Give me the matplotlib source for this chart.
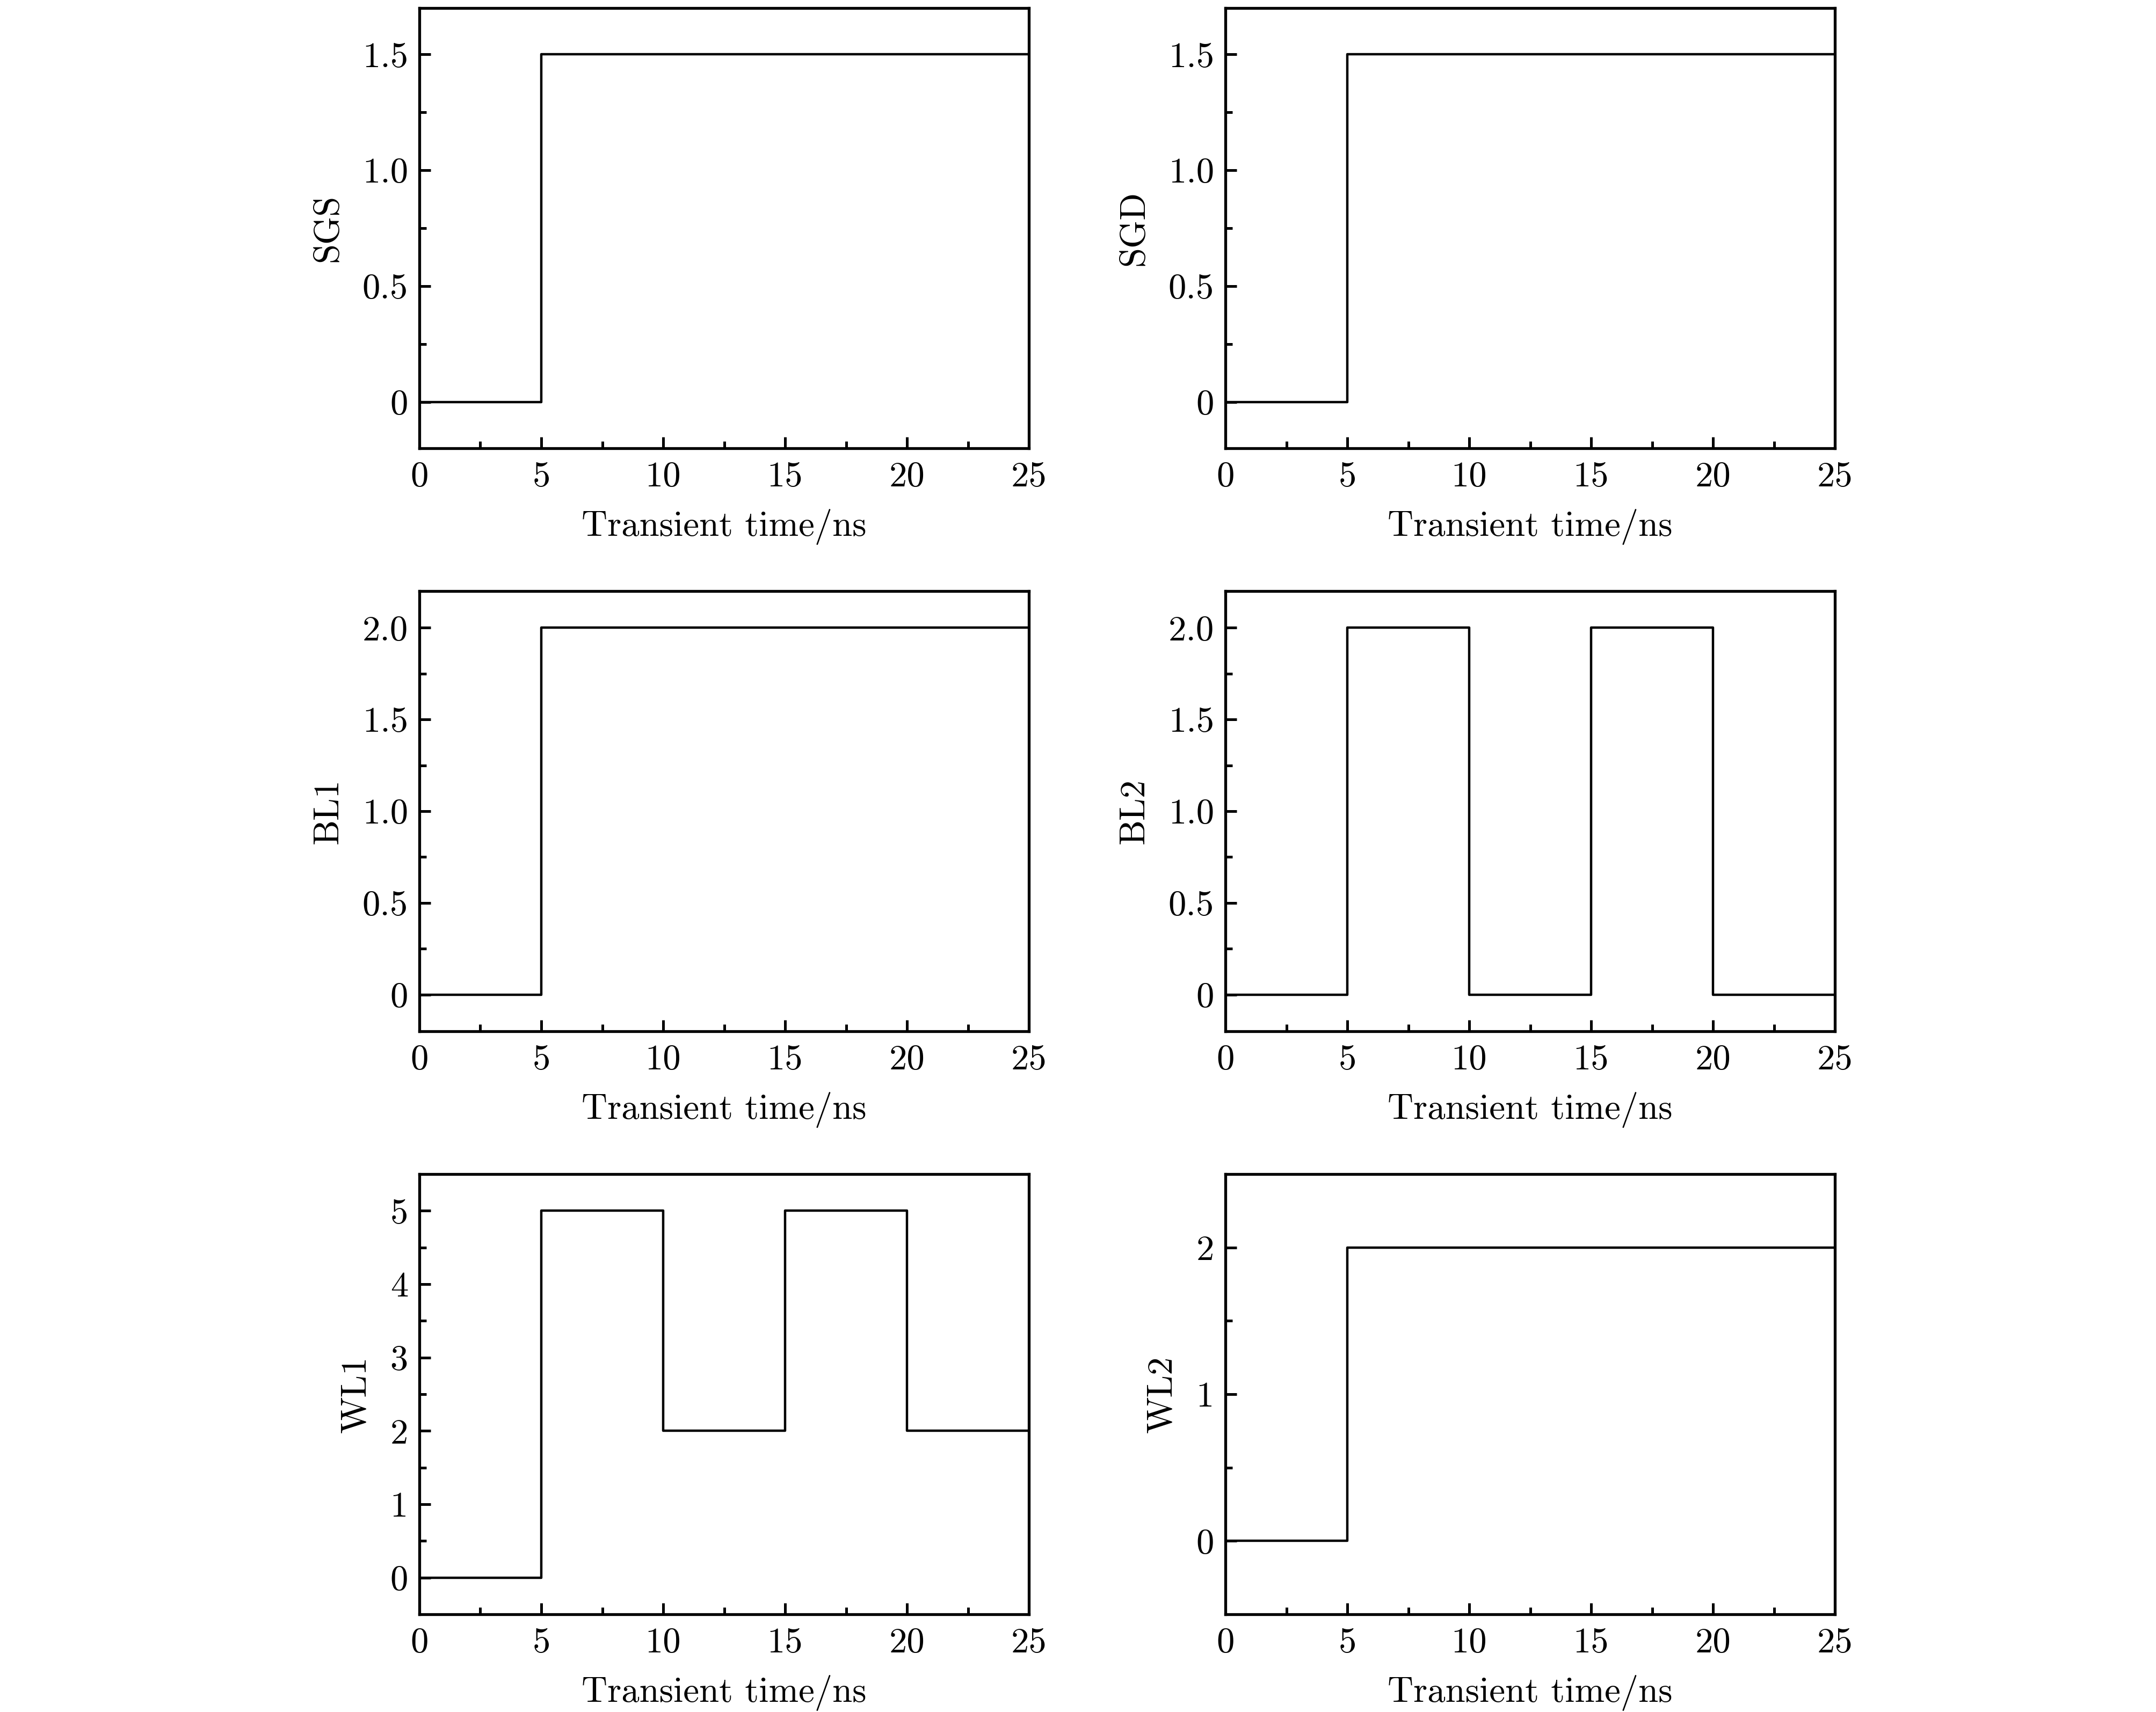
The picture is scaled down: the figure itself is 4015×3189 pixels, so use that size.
import matplotlib
matplotlib.use("Agg")
import matplotlib.pyplot as plt
from matplotlib.ticker import MultipleLocator, FuncFormatter

plt.rcParams['font.family'] = 'serif'
plt.rcParams['font.serif'] = ['cmr10', 'DejaVu Serif']
plt.rcParams['axes.formatter.use_mathtext'] = True

# Data
time_ns = [0, 5, 10, 15, 20, 25]
sgs = [0, 1.5, 1.5, 1.5, 1.5, 1.5]
sgd = [0, 1.5, 1.5, 1.5, 1.5, 1.5]
bl1 = [0, 2.0, 2.0, 2.0, 2.0, 2.0]
bl2 = [0, 2.0, 0, 2.0, 0, 0]
wl1 = [0, 5, 2, 5, 2, 2]
wl2 = [0, 2, 2, 2, 2, 2]

labels = ["SGS", "SGD", "BL1", "BL2", "WL1", "WL2"]
series = [sgs, sgd, bl1, bl2, wl1, wl2]
ylims = [(-0.2, 1.7), (-0.2, 1.7), (-0.2, 2.2), (-0.2, 2.2), (-0.5, 5.5), (-0.5, 2.5)]
ymajor = [0.5, 0.5, 0.5, 0.5, 1, 1]
yminor = [0.25, 0.25, 0.25, 0.25, 0.5, 0.5]
decimals = [1, 1, 1, 1, 0, 0]

W, H = 4016, 3189
fig = plt.figure(figsize=(W / 400, H / 400), dpi=400)

col_left = [781, 2282]
col_right = [1916, 3417]
row_top = [15, 1101, 2187]
row_bot = [835, 1921, 3007]

fs = 12
for i, (lab, y) in enumerate(zip(labels, series)):
    r, c = divmod(i, 2)
    x0, x1 = col_left[c], col_right[c]
    t, b = row_top[r], row_bot[r]
    ax = fig.add_axes([x0 / W, 1 - b / H, (x1 - x0) / W, (b - t) / H])
    ax.plot(time_ns, y, drawstyle='steps-post', color='black', lw=0.8)
    ax.set_xlim(0, 25)
    ax.set_ylim(*ylims[i])
    ax.xaxis.set_major_locator(MultipleLocator(5))
    ax.xaxis.set_minor_locator(MultipleLocator(2.5))
    ax.yaxis.set_major_locator(MultipleLocator(ymajor[i]))
    ax.yaxis.set_minor_locator(MultipleLocator(yminor[i]))
    d = decimals[i]
    ax.yaxis.set_major_formatter(FuncFormatter(
        lambda v, p, d=d: "0" if abs(v) < 1e-9 else f"{v:.{d}f}"))
    ax.xaxis.set_major_formatter(FuncFormatter(lambda v, p: f"{v:.0f}"))
    ax.tick_params(which='both', direction='in', top=False, right=False,
                   labelsize=fs, width=0.9, pad=3.8)
    ax.tick_params(axis='x', which='both', pad=4.4)
    ax.tick_params(which='major', length=3.8)
    ax.tick_params(which='minor', length=2.3)
    for s in ax.spines.values():
        s.set_linewidth(0.95)
    ax.set_xlabel("Transient time/ns", fontsize=fs, labelpad=5.2)
    ax.set_ylabel(lab, fontsize=fs, labelpad=6)

fig.savefig("out.png", dpi=400)
